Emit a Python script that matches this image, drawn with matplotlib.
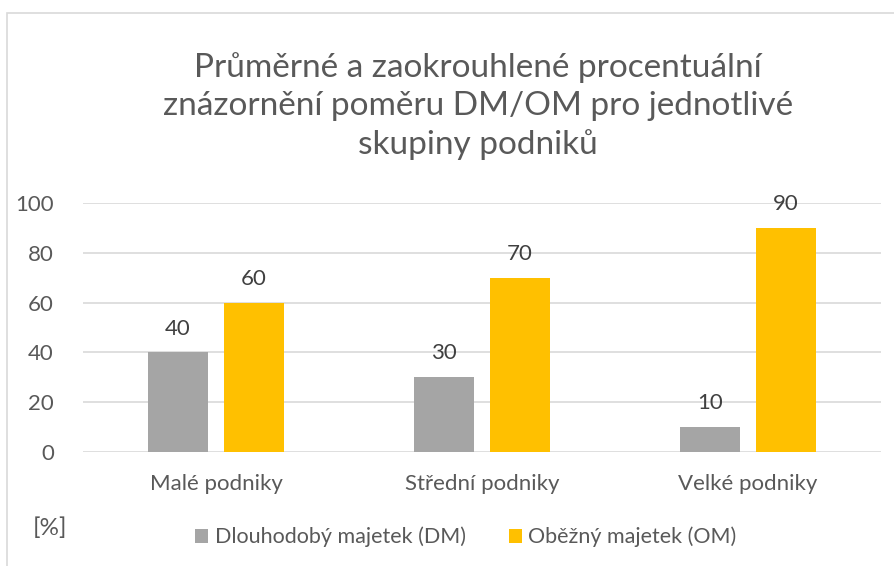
import numpy as np
import matplotlib.pyplot as plt
from matplotlib.patches import Rectangle

kategorie = ['Malé podniky', 'Střední podniky', 'Velké podniky']
dm = [40, 30, 10]
om = [60, 70, 90]
nazvy = ['Dlouhodobý majetek (DM)', 'Oběžný majetek (OM)']
titulek = 'Průměrné a zaokrouhlené procentuální\nznázornění poměru DM/OM pro jednotlivé\nskupiny podniků'

plt.rcParams['font.family'] = ['Lato', 'DejaVu Sans']
sedy_text = '#595959'

W, H = 894, 566
fig = plt.figure(figsize=(W / 100, H / 100), dpi=100)

# okraj grafu (Excel)
fig.patches.append(Rectangle((7 / W, -0.1), 1.2, 1 - 13 / H + 0.1, transform=fig.transFigure,
                             fill=False, edgecolor='#d9d9d9', linewidth=1.2))

ax = fig.add_axes([83 / W, 1 - 452 / H, (881 - 83) / W, (452 - 203) / H])
x = np.arange(len(kategorie))
w = 0.2256
g = 0.06
b1 = ax.bar(x - (w + g) / 2, dm, w, color='#a5a5a5', label=nazvy[0], zorder=3)
b2 = ax.bar(x + (w + g) / 2, om, w, color='#ffc000', label=nazvy[1], zorder=3)
for bars in (b1, b2):
    ax.bar_label(bars, padding=10, fontsize=16, color='#404040')

ax.set_xlim(-0.5, 2.5)
ax.set_ylim(0, 100)
ax.set_yticks(range(0, 101, 20))
ax.set_xticks(x)
ax.set_xticklabels(kategorie)
ax.tick_params(axis='both', length=0, labelsize=16, labelcolor=sedy_text)
ax.tick_params(axis='x', pad=16)
ax.tick_params(axis='y', pad=21)
ax.grid(axis='y', color='#d9d9d9', linewidth=1.2, zorder=0)
for s in ax.spines.values():
    s.set_visible(False)

fig.text(478 / W, 1 - 106 / H, titulek, ha='center', va='center', fontsize=24,
         color=sedy_text, linespacing=1.32)
fig.text(50 / W, 1 - 528 / H, '[%]', ha='center', va='center', fontsize=17.5, color=sedy_text)

fig.legend(handles=[b1, b2], loc='center', bbox_to_anchor=(466 / W, 1 - 537 / H), ncol=2,
           frameon=False, fontsize=15.5, labelcolor=sedy_text, handlelength=0.6,
           handleheight=0.6, handletextpad=0.3, columnspacing=2.0)

fig.savefig('out.png', dpi=100)
